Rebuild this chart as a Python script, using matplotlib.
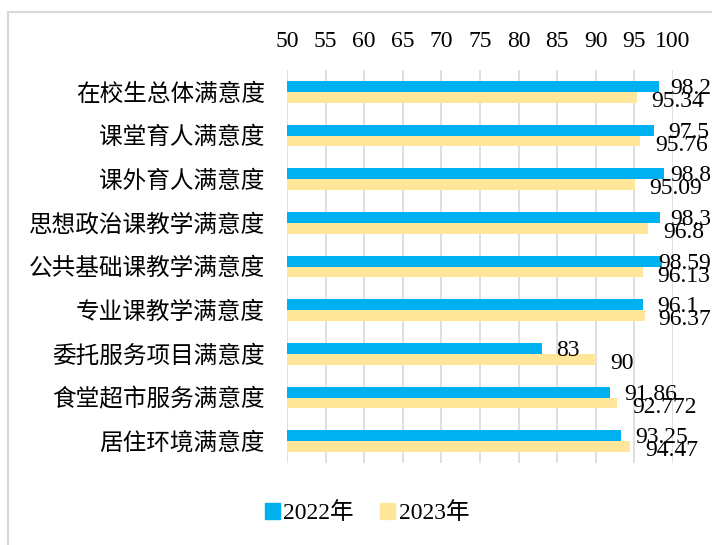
import matplotlib.pyplot as plt
import numpy as np
from matplotlib.patches import Rectangle, Patch

plt.rcParams['font.family'] = ['Liberation Serif', 'Noto Sans CJK SC']

categories = ["在校生总体满意度", "课堂育人满意度", "课外育人满意度",
              "思想政治课教学满意度", "公共基础课教学满意度", "专业课教学满意度",
              "委托服务项目满意度", "食堂超市服务满意度", "居住环境满意度"]
values_2022 = [98.2, 97.5, 98.8, 98.3, 98.59, 96.1, 83, 91.86, 93.25]
values_2023 = [95.34, 95.76, 95.09, 96.8, 96.13, 96.37, 90, 92.772, 94.47]
series_names = ["2022年", "2023年"]
x_ticks = list(range(50, 101, 5))

blue = "#00B0F0"
yellow = "#FFE699"
grid_grey = "#D9D9D9"

fig = plt.figure(figsize=(7.12, 5.45), dpi=100)

# outer frame of the chart area
fig.patches.append(Rectangle((8 / 712, -0.1), 1.2, 1 - 12 / 545 + 0.1,
                             transform=fig.transFigure, fill=False,
                             edgecolor=grid_grey, linewidth=1.5))

ax = fig.add_axes([287 / 712, 82 / 545, 386 / 712, 393 / 545])

y = np.arange(len(categories))
h = 0.25
ax.barh(y - h / 2, [v - 50 for v in values_2022], left=50, height=h, color=blue, zorder=3)
ax.barh(y + h / 2, [v - 50 for v in values_2023], left=50, height=h, color=yellow, zorder=3)

ax.set_xlim(50, 100)
ax.set_ylim(len(categories) - 0.5, -0.5)
ax.set_xticks(x_ticks)
ax.xaxis.tick_top()
ax.tick_params(axis='x', length=0, pad=13, labelsize=17)
ax.tick_params(axis='y', length=0, pad=16, labelsize=17)
ax.set_yticks(y)
ax.set_yticklabels(categories)
ax.grid(axis='x', color=grid_grey, linewidth=1.2, zorder=0)
for s in ax.spines.values():
    s.set_visible(False)

texts = []
for i in range(len(categories)):
    t1 = ax.annotate(f"{values_2022[i]:g}", (values_2022[i], y[i] - h / 2),
                     xytext=(10.5, -1.5), textcoords='offset points',
                     ha='left', va='center', fontsize=17, zorder=5,
                     annotation_clip=False)
    t2 = ax.annotate(f"{values_2023[i]:g}", (values_2023[i], y[i] + h / 2),
                     xytext=(10.5, -3), textcoords='offset points',
                     ha='left', va='center', fontsize=17, zorder=5,
                     annotation_clip=False)
    texts += [t1, t2]

# keep the labels inside the chart, like the original does
fig.canvas.draw()
renderer = fig.canvas.get_renderer()
W = fig.bbox.width
for t in texts:
    bb = t.get_window_extent(renderer)
    if bb.x1 > W - 1:
        dx, dy = t.xyann
        t.xyann = (dx - (bb.x1 - W + 1) * 72 / fig.dpi, dy)

handles = [Patch(color=blue), Patch(color=yellow)]
fig.legend(handles, series_names, loc='center', bbox_to_anchor=(367 / 712, 1 - 513 / 545),
           ncol=2, frameon=False, fontsize=17, handlelength=0.65, handleheight=0.65,
           handletextpad=0.15, columnspacing=1.1)

fig.savefig("out.png", dpi=100)
plt.close()
